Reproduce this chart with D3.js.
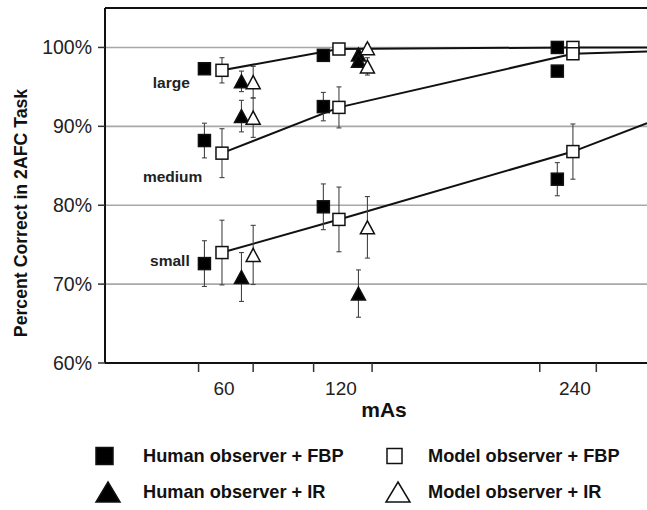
<!DOCTYPE html>
<html>
<head>
<meta charset="utf-8">
<script src="https://cdn.jsdelivr.net/npm/d3@7"></script>
<style>
  html, body { margin: 0; padding: 0; background: #fff; }
  svg { display: block; font-family: "Liberation Sans", Arial, sans-serif; }
</style>
</head>
<body>
<svg id="chart" width="647" height="510"></svg>
<script>
// Lesion sizes, top to bottom
const sizes = ["large", "medium", "small"];

// Tube current-time product (mAs) for each observer/reconstruction group
const humanFbpX = [51, 112, 232];
const modelFbpX = [60, 120, 240];
const humanIrX  = [70, 130];
const modelIrX  = [76, 134.6];

// Percent correct, one row per lesion size
const humanFbp = [[97.3, 99.0, 100.0], [88.2, 92.5, 97.0], [72.6, 79.8, 83.3]];
const humanFbpErr = [[0.5, 0, 0], [2.2, 1.8, 0.6], [2.9, 2.9, 2.1]];
const modelFbp = [[97.1, 99.8, 100.0], [86.6, 92.4, 99.2], [74.0, 78.2, 86.8]];
const modelFbpErr = [[1.6, 0.6, 0.5], [3.1, 2.6, 0.5], [4.1, 4.1, 3.5]];
const humanIr = [[95.7, 99.1], [91.3, 98.3], [70.9, 68.8]];
const humanIrErr = [[1.3, 0.5], [2.0, 0.6], [3.1, 3.0]];
const modelIr = [[95.6, 99.9], [91.1, 97.6], [73.7, 77.2]];
const modelIrErr = [[2.0, 0.5], [2.5, 1.1], [3.75, 3.9]];

// Model-observer FBP trend continues to the right edge of the plot
const trendEndX = 278;
const trendEnd = [100.0, 99.5, 90.4];

// Axis ticks
const yTicks = [60, 70, 80, 90, 100];
const xTickMarks = [48, 76, 107, 137, 223, 252];
const xTickLabels = [60, 120, 240];

// Label positions for lesion sizes (mAs, percent), text centred there
const sizeLabelPos = [[34, 95.6], [34.7, 83.6], [33.3, 73.0]];

const legendItems = [
  { label: "Human observer + FBP", shape: "square", fill: "#000" },
  { label: "Model observer + FBP", shape: "square", fill: "#fff" },
  { label: "Human observer + IR", shape: "triangle", fill: "#000" },
  { label: "Model observer + IR", shape: "triangle", fill: "#fff" }
];

const svg = d3.select("#chart");
const plotLeft = 105, plotRight = 647, plotTop = 8, plotBottom = 363;

const x = d3.scaleLinear().domain([0, 278]).range([plotLeft, plotRight]);
const y = d3.scaleLinear().domain([60, 105]).range([plotBottom, plotTop]);

// Gridlines
svg.append("g").selectAll("line")
  .data(yTicks.filter(d => d > 60))
  .join("line")
  .attr("x1", plotLeft).attr("x2", plotRight)
  .attr("y1", d => y(d)).attr("y2", d => y(d))
  .attr("stroke", "#a8a8a8").attr("stroke-width", 1.6);

// Trend lines through model-observer FBP points
const line = d3.line().x(d => x(d[0])).y(d => y(d[1]));
sizes.forEach((s, i) => {
  const pts = modelFbpX.map((mx, j) => [mx, modelFbp[i][j]]);
  pts.push([trendEndX, trendEnd[i]]);
  svg.append("path").datum(pts)
    .attr("d", line)
    .attr("fill", "none").attr("stroke", "#111").attr("stroke-width", 2);
});

// Error bars
function errorBars(xs, vals, errs) {
  const g = svg.append("g").attr("stroke", "#444").attr("stroke-width", 1.1);
  vals.forEach((row, i) => row.forEach((v, j) => {
    const e = errs[i][j];
    if (!e) return;
    const cx = x(xs[j]);
    g.append("line").attr("x1", cx).attr("x2", cx).attr("y1", y(v - e)).attr("y2", y(v + e));
    [v - e, v + e].forEach(t => g.append("line")
      .attr("x1", cx - 2.5).attr("x2", cx + 2.5).attr("y1", y(t)).attr("y2", y(t)));
  }));
}
errorBars(humanFbpX, humanFbp, humanFbpErr);
errorBars(modelFbpX, modelFbp, modelFbpErr);
errorBars(humanIrX, humanIr, humanIrErr);
errorBars(modelIrX, modelIr, modelIrErr);

// Markers
function squares(xs, vals, fill, size) {
  const pts = vals.flatMap((row) => row.map((v, j) => [xs[j], v]));
  svg.append("g").selectAll("rect").data(pts).join("rect")
    .attr("x", d => x(d[0]) - size / 2).attr("y", d => y(d[1]) - size / 2)
    .attr("width", size).attr("height", size)
    .attr("fill", fill).attr("stroke", "#111").attr("stroke-width", 1.5);
}
function triPath(cx, cy, w, h) {
  return `M${cx},${cy - h / 2}L${cx + w / 2},${cy + h / 2}L${cx - w / 2},${cy + h / 2}Z`;
}
function triangles(xs, vals, fill, w, h) {
  const pts = vals.flatMap((row) => row.map((v, j) => [xs[j], v]));
  svg.append("g").selectAll("path").data(pts).join("path")
    .attr("d", d => triPath(x(d[0]), y(d[1]), w, h))
    .attr("fill", fill).attr("stroke", "#111").attr("stroke-width", 1.5)
    .attr("stroke-linejoin", "miter");
}
squares(humanFbpX, humanFbp, "#000", 12);
squares(modelFbpX, modelFbp, "#fff", 12);
triangles(humanIrX, humanIr, "#000", 14, 13);
triangles(modelIrX, modelIr, "#fff", 14, 13);

// Lesion size labels
svg.append("g").selectAll("text").data(sizes).join("text")
  .attr("x", (d, i) => x(sizeLabelPos[i][0]))
  .attr("y", (d, i) => y(sizeLabelPos[i][1]))
  .attr("dy", "0.35em").attr("text-anchor", "middle")
  .attr("font-size", 15.5).attr("font-weight", "bold").attr("fill", "#222")
  .text(d => d);

// Frame: top border, y axis, x axis
svg.append("line").attr("x1", plotLeft).attr("x2", plotRight).attr("y1", plotTop).attr("y2", plotTop)
  .attr("stroke", "#111").attr("stroke-width", 2);
svg.append("line").attr("x1", plotLeft).attr("x2", plotLeft).attr("y1", plotTop).attr("y2", plotBottom)
  .attr("stroke", "#111").attr("stroke-width", 2);
svg.append("line").attr("x1", plotLeft).attr("x2", plotRight).attr("y1", plotBottom).attr("y2", plotBottom)
  .attr("stroke", "#111").attr("stroke-width", 2);

// Y ticks and labels
const yAxis = svg.append("g");
yAxis.selectAll("line").data(yTicks).join("line")
  .attr("x1", plotLeft - 7).attr("x2", plotLeft).attr("y1", d => y(d)).attr("y2", d => y(d))
  .attr("stroke", "#333").attr("stroke-width", 1.5);
yAxis.selectAll("text").data(yTicks).join("text")
  .attr("x", 92).attr("y", d => y(d)).attr("dy", "0.35em")
  .attr("text-anchor", "end").attr("font-size", 19.5).attr("fill", "#222")
  .text(d => d + "%");

// X ticks and labels
const xAxis = svg.append("g");
xAxis.selectAll("line").data(xTickMarks).join("line")
  .attr("x1", d => x(d)).attr("x2", d => x(d)).attr("y1", plotBottom).attr("y2", plotBottom + 9)
  .attr("stroke", "#333").attr("stroke-width", 1.5);
xAxis.selectAll("text").data(xTickLabels).join("text")
  .attr("x", d => x(d) + 2).attr("y", 388).attr("dy", "0.35em")
  .attr("text-anchor", "middle").attr("font-size", 19).attr("fill", "#222")
  .text(d => d);

// Axis titles
svg.append("text").attr("x", 384).attr("y", 410).attr("dy", "0.35em")
  .attr("text-anchor", "middle").attr("font-size", 21).attr("font-weight", "bold")
  .attr("fill", "#111").text("mAs");
svg.append("text")
  .attr("transform", "translate(21,213) rotate(-90)")
  .attr("dy", "0.35em").attr("text-anchor", "middle")
  .attr("font-size", 17.7).attr("font-weight", "bold").attr("fill", "#111")
  .text("Percent Correct in 2AFC Task");

// Legend
const legendCols = [96, 386], legendTextX = [143, 428], legendRows = [456, 492];
legendItems.forEach((it, i) => {
  const col = i % 2, row = Math.floor(i / 2);
  const cx = legendCols[col], cy = legendRows[row];
  if (it.shape === "square") {
    const s = it.fill === "#000" ? 17 : 15;
    svg.append("rect").attr("x", cx + (17 - s) / 2).attr("y", cy - s / 2)
      .attr("width", s).attr("height", s)
      .attr("fill", it.fill).attr("stroke", "#111").attr("stroke-width", 1.5);
  } else {
    svg.append("path").attr("d", triPath(cx + 12, cy, 24, 20))
      .attr("fill", it.fill).attr("stroke", "#111").attr("stroke-width", 1.5);
  }
  svg.append("text").attr("x", legendTextX[col]).attr("y", cy).attr("dy", "0.35em")
    .attr("font-size", 18.2).attr("font-weight", "bold").attr("fill", "#111")
    .text(it.label);
});
</script>
</body>
</html>
